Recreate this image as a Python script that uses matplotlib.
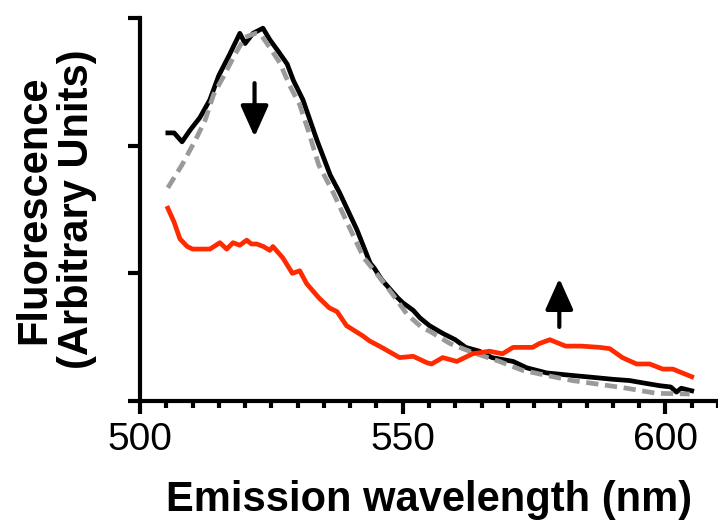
import matplotlib
matplotlib.use("Agg")
import matplotlib.pyplot as plt
from matplotlib.ticker import MultipleLocator

plt.rcParams['font.family'] = ['Liberation Sans', 'DejaVu Sans']

# Black solid spectrum
black_x = [505.3, 506.5, 508.0, 509.5, 511.4, 513.3, 515.0, 517.0, 519.0, 520.0, 521.5,
           523.4, 524.7, 526.3, 528.0, 529.2, 531.0, 533.7, 536.2, 538.0, 541.3, 543.8,
           544.6, 546.0, 549.0, 550.0, 552.0, 553.3, 555.1, 557.6, 560.0, 562.0, 564.6,
           567.0, 571.0, 573.6, 577.4, 582.3, 587.5, 590.0, 593.2, 596.0, 598.9, 601.0,
           602.1, 603.0, 605.0]
black_y = [2.10, 2.10, 2.03, 2.12, 2.22, 2.36, 2.55, 2.71, 2.88, 2.80, 2.88,
           2.92, 2.83, 2.74, 2.64, 2.51, 2.36, 2.04, 1.77, 1.63, 1.34, 1.08,
           1.04, 0.95, 0.81, 0.77, 0.71, 0.65, 0.59, 0.53, 0.48, 0.42, 0.39,
           0.34, 0.31, 0.26, 0.22, 0.20, 0.18, 0.17, 0.16, 0.14, 0.12, 0.11,
           0.07, 0.10, 0.08]

# Grey dashed spectrum
grey_x = [505.3, 508.0, 510.5, 512.4, 514.0, 516.0, 518.0, 520.0, 522.0, 523.0, 525.0,
          526.6, 528.5, 530.4, 532.0, 534.0, 536.8, 539.5, 542.6, 545.0, 548.0, 550.8,
          553.8, 555.0, 559.0, 563.3, 568.4, 572.8, 577.4, 582.3, 587.5, 592.6, 598.3,
          604.6]
grey_y = [1.67, 1.85, 2.04, 2.20, 2.40, 2.55, 2.71, 2.85, 2.88, 2.87, 2.75,
          2.65, 2.47, 2.32, 2.12, 1.85, 1.63, 1.39, 1.12, 1.00, 0.84, 0.68,
          0.57, 0.55, 0.45, 0.38, 0.31, 0.24, 0.20, 0.16, 0.13, 0.10, 0.06,
          0.055]

# Red spectrum
red_x = [505.3, 506.5, 507.6, 509.0, 510.0, 513.3, 515.2, 516.5, 517.7, 519.0, 520.3,
         521.2, 522.2, 523.5, 524.7, 525.3, 527.2, 529.0, 530.4, 531.7, 534.0, 536.0,
         537.5, 539.3, 542.4, 543.7, 546.0, 549.4, 552.0, 554.6, 555.5, 557.6, 560.3,
         563.3, 566.5, 569.0, 571.0, 574.7, 576.0, 578.0, 581.0, 584.0, 587.5, 589.4,
         591.8, 594.5, 597.0, 599.5, 601.4, 605.0]
red_y = [1.51, 1.40, 1.27, 1.21, 1.19, 1.19, 1.24, 1.19, 1.24, 1.22, 1.26,
         1.23, 1.23, 1.21, 1.18, 1.21, 1.12, 1.00, 1.02, 0.92, 0.81, 0.73,
         0.70, 0.59, 0.51, 0.47, 0.42, 0.34, 0.35, 0.30, 0.29, 0.34, 0.31,
         0.37, 0.39, 0.37, 0.42, 0.42, 0.45, 0.48, 0.43, 0.43, 0.42, 0.41,
         0.34, 0.29, 0.29, 0.25, 0.25, 0.19]

# Arrows (wavelength, start, end)
arrow_down = (521.8, 2.49, 2.07)
arrow_up = (579.8, 0.58, 0.96)

x_ticks = [500, 550, 600]
x_ticklabels = ['500', '550', '600']
y_ticks = [0, 1, 2, 3]

fig = plt.figure(figsize=(7.18, 5.23), dpi=100)
ax = fig.add_axes([140/718, 1 - 401/523, 1 - 140/718, (401 - 18)/523])

ax.plot(black_x, black_y, color='black', lw=3.4, zorder=3)
ax.plot(grey_x, grey_y, color='#9a9a9a', lw=3.4, dashes=(2.6, 1.4),
        dash_capstyle='butt', zorder=4)
ax.plot(red_x, red_y, color='#ff2a00', lw=3.4, zorder=5)

for (ax_x, y0, y1) in (arrow_down, arrow_up):
    ax.annotate('', xy=(ax_x, y1), xytext=(ax_x, y0),
                arrowprops=dict(arrowstyle='-|>,head_length=1.9,head_width=0.85',
                                color='black', lw=3, shrinkA=0, shrinkB=0))

ax.set_xlim(500, 610)
ax.set_ylim(0, 3)
ax.set_xticks(x_ticks)
ax.set_xticklabels(x_ticklabels)
ax.xaxis.set_minor_locator(MultipleLocator(5))
ax.set_yticks(y_ticks)
ax.set_yticklabels([])

for s in ['top', 'right']:
    ax.spines[s].set_visible(False)
for s in ['left', 'bottom']:
    ax.spines[s].set_linewidth(3)

ax.tick_params(axis='both', which='major', length=9, width=3, labelsize=28, pad=6)
ax.tick_params(axis='x', which='minor', length=5, width=3)

ax.set_xlabel('Emission wavelength (nm)', fontsize=30, fontweight='bold', labelpad=16)
ax.set_ylabel('Fluorescence\n(Arbitrary Units)', fontsize=30, fontweight='bold',
              labelpad=16, linespacing=1.08)

fig.savefig('out.png', dpi=100)
